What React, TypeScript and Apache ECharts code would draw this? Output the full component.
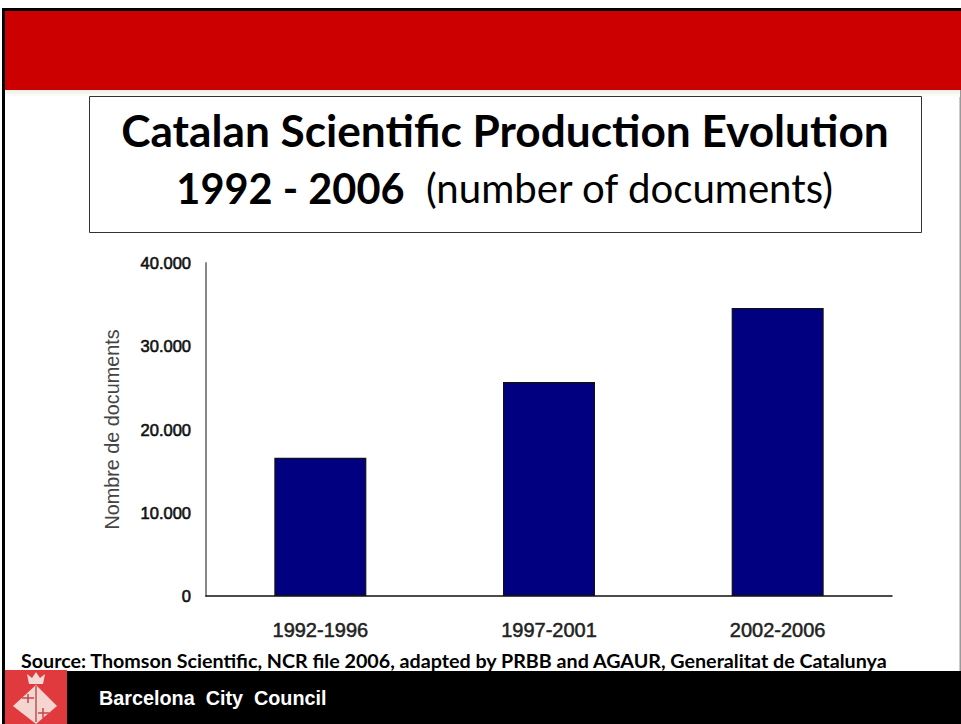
import React, { useEffect, useRef } from "react";
import * as echarts from "echarts";

const periods = ["1992-1996", "1997-2001", "2002-2006"];
const documents = [16600, 25700, 34600];
const yTicks = [0, 10000, 20000, 30000, 40000];
const yTickLabels = ["0", "10.000", "20.000", "30.000", "40.000"];
const titleLine1 = "Catalan Scientific Production Evolution";
const titleLine2Bold = "1992 - 2006";
const titleLine2Regular = "  (number of documents)";
const yAxisName = "Nombre de documents";
const sourceText = "Source: Thomson Scientific, NCR file 2006, adapted by PRBB and AGAUR, Generalitat de Catalunya";
const footerText = "Barcelona  City  Council";

export default function App() {
  const ref = useRef<HTMLDivElement>(null);
  useEffect(() => {
    document.body.style.margin = "0";
    document.body.style.background = "#fff";
    const chart = echarts.init(ref.current!, undefined, { renderer: "svg" });
    const pale = "#f3d9d4";
    chart.setOption({
      animation: false,
      backgroundColor: "#ffffff",
      title: {
        left: 500,
        top: 95,
        textAlign: "center",
        text: `{a|${titleLine1}}\n{c|${titleLine2Bold}}{b|${titleLine2Regular}}`,
        textStyle: {
          rich: {
            a: { fontFamily: "Lato", fontWeight: "bold", fontSize: 44.2, lineHeight: 58.5, color: "#000" },
            c: { fontFamily: "Lato", fontWeight: "bold", fontSize: 41.5, lineHeight: 58.5, color: "#000" },
            b: { fontFamily: "Lato", fontWeight: "normal", fontSize: 40.2, lineHeight: 58.5, color: "#000" },
          },
        },
      },
      grid: { left: 206, right: 69, top: 263, bottom: 128 },
      xAxis: {
        type: "category",
        data: periods,
        axisTick: { show: false },
        axisLine: { lineStyle: { color: "#111", width: 1.5 } },
        axisLabel: {
          margin: 24,
          fontFamily: "Liberation Sans",
          fontSize: 20,
          color: "#222",
          textBorderColor: "#222",
          textBorderWidth: 0.5,
        },
      },
      yAxis: {
        type: "value",
        min: yTicks[0],
        max: yTicks[yTicks.length - 1],
        interval: yTicks[1] - yTicks[0],
        splitLine: { show: false },
        axisTick: { show: false },
        axisLine: { show: true, lineStyle: { color: "#888", width: 2 } },
        axisLabel: {
          margin: 15,
          fontFamily: "Liberation Sans",
          fontSize: 16.5,
          color: "#111",
          textBorderColor: "#111",
          textBorderWidth: 0.6,
          formatter: (v: number) => yTickLabels[yTicks.indexOf(v)] ?? "",
        },
        name: yAxisName,
        nameLocation: "middle",
        nameGap: 84,
        nameTextStyle: { fontFamily: "Liberation Sans", fontSize: 19.8, color: "#444" },
      },
      series: [
        {
          type: "bar",
          data: documents,
          barWidth: 92,
          itemStyle: { color: "#000080", borderColor: "#111", borderWidth: 1.2 },
        },
      ],
      graphic: [
        { type: "rect", z: -10, shape: { x: 2, y: 8, width: 959, height: 82 }, style: { fill: "#000" } },
        { type: "rect", z: -9, shape: { x: 5, y: 11, width: 956, height: 79 }, style: { fill: "#cc0000" } },
        { type: "rect", z: -10, shape: { x: 2, y: 90, width: 3, height: 634 }, style: { fill: "#000" } },
        { type: "rect", z: -10, shape: { x: 959.5, y: 90, width: 1.5, height: 581 }, style: { fill: "#999" } },
        {
          type: "rect",
          z: -9,
          shape: { x: 5, y: 90, width: 955, height: 7 },
          style: {
            fill: new echarts.graphic.LinearGradient(0, 0, 0, 1, [
              { offset: 0, color: "#eeeee4" },
              { offset: 1, color: "#ffffff" },
            ]),
          },
        },
        { type: "rect", z: -8, shape: { x: 89.5, y: 96.5, width: 832, height: 136 }, style: { fill: "#fff", stroke: "#333", lineWidth: 1 } },
        { type: "rect", z: 5, shape: { x: 67, y: 671, width: 894, height: 53 }, style: { fill: "#000" } },
        { type: "rect", z: 5, shape: { x: 5, y: 670, width: 62, height: 54 }, style: { fill: "#e03a3e" } },
        // coat of arms
        { type: "polygon", z: 6, shape: { points: [[36, 685], [57, 706], [36, 724], [13, 706]] }, style: { fill: "#f5d5cf" } },
        { type: "polygon", z: 6, shape: { points: [[27, 674], [32, 678], [36, 672], [40, 678], [45, 674], [43, 684], [29, 684]] }, style: { fill: pale } },
        { type: "line", z: 7, shape: { x1: 36, y1: 686, x2: 36, y2: 722 }, style: { stroke: "#b9535a", lineWidth: 1.5 } },
        { type: "line", z: 7, shape: { x1: 28, y1: 694, x2: 28, y2: 703 }, style: { stroke: "#c4434a", lineWidth: 1.5 } },
        { type: "line", z: 7, shape: { x1: 22, y1: 698, x2: 34, y2: 698 }, style: { stroke: "#c4434a", lineWidth: 1.5 } },
        { type: "line", z: 7, shape: { x1: 43, y1: 708, x2: 43, y2: 718 }, style: { stroke: "#c4434a", lineWidth: 1.5 } },
        { type: "line", z: 7, shape: { x1: 38, y1: 713, x2: 49, y2: 713 }, style: { stroke: "#c4434a", lineWidth: 1.5 } },
        {
          type: "text",
          z: 4,
          x: 21,
          y: 650,
          style: { text: sourceText, fontFamily: "Lato", fontWeight: "bold", fontSize: 19.7, fill: "#000" },
        },
        {
          type: "text",
          z: 8,
          x: 99,
          y: 688,
          style: { text: footerText, fontFamily: "Liberation Sans", fontWeight: "bold", fontSize: 19.8, fill: "#fff" },
        },
      ],
    });
    return () => chart.dispose();
  }, []);
  return <div ref={ref} style={{ position: "fixed", left: 0, top: 0, width: 961, height: 724 }} />;
}
